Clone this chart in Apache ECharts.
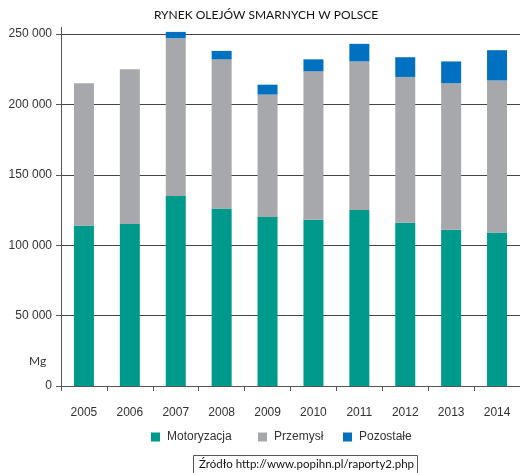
<!DOCTYPE html>
<html><head><meta charset="utf-8">
<script src="https://cdn.jsdelivr.net/npm/echarts@6/dist/echarts.min.js"></script>
<style>html,body{margin:0;padding:0;background:#fff}#c{width:520px;height:473px}</style>
</head><body><div id="c"></div>
<script>
const years = ['2005','2006','2007','2008','2009','2010','2011','2012','2013','2014'];
const motoryzacja = [114000,115000,135000,126000,120000,118000,125000,116000,111000,109000];
const przemysl    = [101000,110000,112000,106000,87000,105500,105500,103500,104000,108000];
const pozostale   = [0,0,4500,6000,7000,8500,12500,14000,15500,21500];
const yTicks = [0,50000,100000,150000,200000,250000];

const SANS = "'Liberation Sans',Arial,sans-serif";
const CAL = "Lato,'Open Sans',sans-serif";
const fmt = v => v === 0 ? '0' : String(v).replace(/\B(?=(\d{3})+(?!\d))/g, ' ');

const chart = echarts.init(document.getElementById('c'));
const names = ['Motoryzacja','Przemysł','Pozostałe'];
const colors = ['#009A8C','#A7A8AB','#0070C0'];
const legendLefts = [151, 258, 343];
chart.setOption({
  animation: false,
  title: { text: 'RYNEK OLEJÓW SMARNYCH W POLSCE', left: 266, textAlign: 'center', top: 9, padding: 0,
    textStyle: { fontFamily: CAL, fontSize: 12, fontWeight: 'normal', color: '#111' } },
  legend: names.map((n, i) => ({
    data: [n], left: legendLefts[i], top: 431, itemWidth: 9, itemHeight: 9, itemGap: 0, padding: 0,
    icon: 'rect', textStyle: { fontFamily: SANS, fontSize: 12, color: '#333', padding: [0,0,0,2] }
  })),
  grid: { left: 61, right: -8, top: 34, bottom: 87 },
  xAxis: { type: 'category', data: years,
    axisLine: { lineStyle: { color: '#555', width: 1 } },
    axisTick: { show: true, length: 5, lineStyle: { color: '#555' } },
    axisLabel: { margin: 21, fontFamily: SANS, fontSize: 12, color: '#333' } },
  yAxis: { type: 'value', min: yTicks[0], max: yTicks[yTicks.length-1], interval: 50000,
    axisLine: { show: true, lineStyle: { color: '#555', width: 1 } },
    axisTick: { show: true, length: 5, lineStyle: { color: '#555' } },
    splitLine: { lineStyle: { color: '#444', width: 1 } },
    axisLabel: { margin: 9, fontFamily: SANS, fontSize: 12, color: '#333', formatter: fmt } },
  series: [
    { name: names[0], type: 'bar', stack: 's', data: motoryzacja, barWidth: 20, clip: false, itemStyle: { color: colors[0] } },
    { name: names[1], type: 'bar', stack: 's', data: przemysl, barWidth: 20, clip: false, itemStyle: { color: colors[1] } },
    { name: names[2], type: 'bar', stack: 's', data: pozostale, barWidth: 20, clip: false, itemStyle: { color: colors[2] } }
  ],
  graphic: [
    { type: 'line', shape: { x1: 61.5, y1: 27, x2: 61.5, y2: 34 }, style: { stroke: '#555', lineWidth: 1 } },
    { type: 'text', left: 29, top: 355, style: { text: 'Mg', font: "12px " + CAL, fill: '#333' } },
    { type: 'rect', shape: { x: 193.5, y: 455.5, width: 224, height: 30 }, style: { fill: '#fff', stroke: '#555', lineWidth: 1 } },
    { type: 'text', left: 199, top: 458, style: { text: 'Źródło http://www.popihn.pl/raporty2.php', font: "11.5px " + CAL, fill: '#111' } }
  ]
});
</script></body></html>
